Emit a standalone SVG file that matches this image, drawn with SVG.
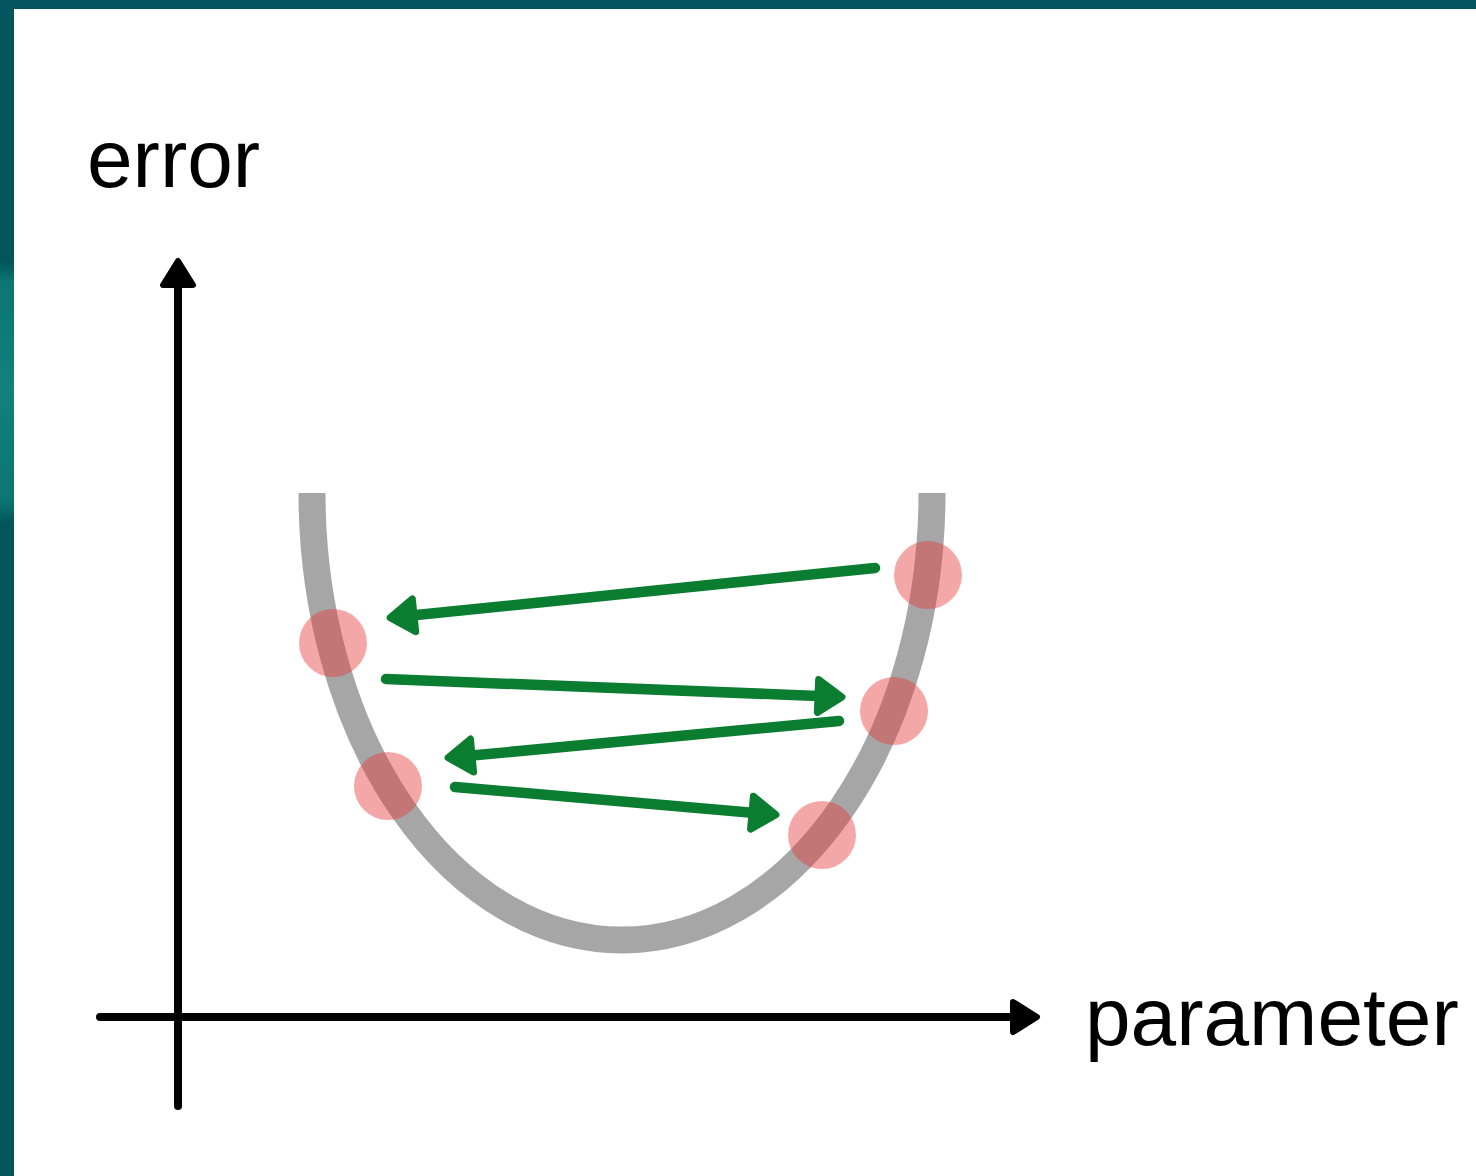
<svg xmlns="http://www.w3.org/2000/svg" width="1476" height="1176" viewBox="0 0 1476 1176">
  <style>
    .axis { stroke: #000; stroke-width: 8; stroke-linecap: round; fill: none; }
    .step { stroke: #0a7d31; stroke-width: 10.5; stroke-linecap: round; fill: none; }
    .curve { stroke: #a6a6a6; stroke-width: 27; fill: none; }
    .pt { fill: #e63c3c; fill-opacity: 0.45; }
    .lbl { font-family: "Liberation Sans", Arial, sans-serif; font-size: 82px; fill: #000; }
  </style>
  <defs>
    <linearGradient id="edge" x1="0" y1="0" x2="0" y2="1">
      <stop offset="0" stop-color="#02555d"/>
      <stop offset="0.222" stop-color="#02555d"/>
      <stop offset="0.24" stop-color="#0b7672"/>
      <stop offset="0.33" stop-color="#12807c"/>
      <stop offset="0.425" stop-color="#0b7672"/>
      <stop offset="0.445" stop-color="#02555d"/>
      <stop offset="1" stop-color="#02555d"/>
    </linearGradient>
    <marker id="bh" markerUnits="userSpaceOnUse" orient="auto" overflow="visible" markerWidth="10" markerHeight="10" refX="0" refY="0">
      <path d="M0,-15 L24,0 L0,15 Z" fill="#000" stroke="#000" stroke-width="6" stroke-linejoin="round"/>
    </marker>
    <marker id="gh" markerUnits="userSpaceOnUse" orient="auto" overflow="visible" markerWidth="10" markerHeight="10" refX="0" refY="0">
      <path d="M0,-16.5 L24,0 L0,16.5 Z" fill="#0a7d31" stroke="#0a7d31" stroke-width="7" stroke-linejoin="round"/>
    </marker>
  </defs>

  <rect x="0" y="0" width="1476" height="1176" fill="#02555d"/>
  <rect x="0" y="0" width="14" height="1176" fill="url(#edge)"/>
  <rect x="14" y="9" width="1462" height="1167" fill="#ffffff"/>

  <g id="axes">
    <line class="axis" x1="178" y1="1106" x2="178" y2="285" marker-end="url(#bh)"/>
    <line class="axis" x1="100" y1="1017" x2="1013" y2="1017" marker-end="url(#bh)"/>
  </g>

  <g id="label-error"><text class="lbl" x="87" y="187">error</text></g>
  <g id="label-parameter"><text class="lbl" x="1085" y="1045">parameter</text></g>

  <g id="error-curve">
    <path class="curve" d="M312,493 A310,447 0 0 0 932,493"/>
  </g>

  <g id="points">
    <circle id="p1" class="pt" cx="928" cy="575" r="34"/>
    <circle id="p2" class="pt" cx="333" cy="643" r="34"/>
    <circle id="p3" class="pt" cx="894" cy="711" r="34"/>
    <circle id="p4" class="pt" cx="388" cy="786" r="34"/>
    <circle id="p5" class="pt" cx="822" cy="835" r="34"/>
  </g>

  <g id="connectors">
    <line class="step" x1="875" y1="568" x2="414" y2="615.3" marker-end="url(#gh)"/>
    <line class="step" x1="386" y1="679" x2="818" y2="696" marker-end="url(#gh)"/>
    <line class="step" x1="839" y1="721" x2="472" y2="755.5" marker-end="url(#gh)"/>
    <line class="step" x1="455" y1="787" x2="752" y2="812.7" marker-end="url(#gh)"/>
  </g>
</svg>
